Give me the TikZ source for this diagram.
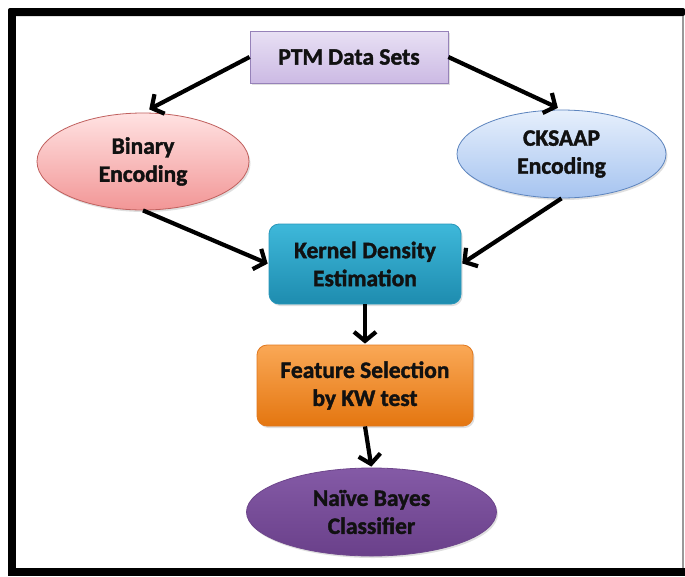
\documentclass[tikz,border=0pt]{standalone}
\usepackage{fontspec}
\setmainfont{Carlito}[BoldFont={Carlito Bold}, BoldFeatures={FakeBold=1.6}]
\usetikzlibrary{shapes.geometric,arrows.meta,shadows}
\definecolor{txt}{HTML}{111111}
\definecolor{ptmT}{RGB}{232,224,244}\definecolor{ptmB}{RGB}{204,186,228}\definecolor{ptmD}{RGB}{150,130,185}
\definecolor{binT}{RGB}{255,226,226}\definecolor{binB}{RGB}{242,150,150}\definecolor{binD}{RGB}{192,96,94}
\definecolor{cksT}{RGB}{230,239,252}\definecolor{cksB}{RGB}{166,196,240}\definecolor{cksD}{RGB}{92,132,190}
\definecolor{kdeT}{RGB}{62,184,218}\definecolor{kdeB}{RGB}{30,140,175}\definecolor{kdeD}{RGB}{40,150,185}
\definecolor{fsT}{RGB}{250,168,86}\definecolor{fsB}{RGB}{228,118,16}\definecolor{fsD}{RGB}{225,120,30}
\definecolor{nbT}{RGB}{132,90,166}\definecolor{nbB}{RGB}{106,64,138}\definecolor{nbD}{RGB}{110,70,140}
\tikzset{
  box/.style={draw=#1D, top color=#1T, bottom color=#1B, line width=0.8pt, inner sep=0pt, align=center,
    font=\fontsize{23.5}{28}\selectfont\bfseries, text=txt,
    drop shadow={opacity=0.25, shadow xshift=1.5pt, shadow yshift=-2pt}},
  arr/.style={line width=4.2pt, black, -{Straight Barb[length=9pt,width=22pt]}},
}
\begin{document}
\begin{tikzpicture}[x=1pt,y=-1pt]
\useasboundingbox (0,0) rectangle (685,576);
\fill[white] (0,0) rectangle (685,576);
% frame
\fill[black, rounded corners=2pt] (8,8) rectangle (685,16);
\fill[black] (8,10) rectangle (16,576);
\fill[black] (16,568) rectangle (685,576);
\draw[gray!80, line width=1.4pt] (683,16) -- (683,568);
% nodes
\node[box=ptm, rectangle, minimum width=198pt, minimum height=52pt] (ptm) at (349,57) {PTM Data Sets};
\node[box=bin, ellipse, minimum width=212pt, minimum height=97pt] (bin) at (143,161.5) {Binary\\Encoding};
\node[box=cks, ellipse, minimum width=209pt, minimum height=88pt] (cks) at (561.5,154) {CKSAAP\\Encoding};
\node[box=kde, rectangle, rounded corners=10pt, minimum width=192pt, minimum height=80pt] (kde) at (365,264) {Kernel Density\\Estimation};
\node[box=fs, rectangle, rounded corners=10pt, minimum width=216pt, minimum height=81pt] (fs) at (365,385.5) {Feature Selection\\by KW test};
\node[box=nb, ellipse, minimum width=250pt, minimum height=88pt] (nb) at (371.5,512) {Naïve Bayes\\Classifier};
% arrows
\draw[arr, shorten >=7pt] (ptm.west) -- (bin.north);
\draw[arr, shorten >=4pt] (ptm.east) -- (cks.north);
\draw[arr, shorten >=1pt] (bin.south) -- (kde.west);
\draw[arr, shorten >=1pt] (cks.south) -- (kde.east);
\draw[arr, shorten >=1pt] (kde.south) -- (fs.north);
\draw[arr, shorten >=1pt] (fs.south) -- (nb.north);
\end{tikzpicture}
\end{document}
